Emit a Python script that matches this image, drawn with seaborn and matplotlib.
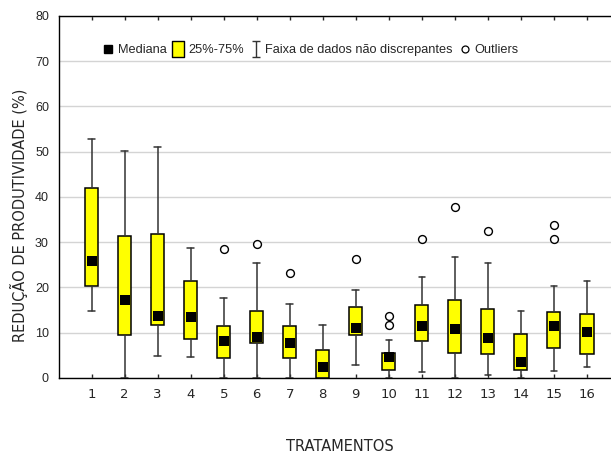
import numpy as np
import pandas as pd
import seaborn as sns
import matplotlib
matplotlib.use("Agg")
import matplotlib.pyplot as plt
from matplotlib.lines import Line2D
from matplotlib.path import Path

# -----------------------------------------
# Data
# -----------------------------------------
tratamentos = list(range(1, 17))
whis_hi = [52.9, 50.1, 51.1, 28.8, 17.6, 25.3, 16.3, 11.6, 19.4, 8.3, 22.4, 26.7, 25.3, 14.7, 20.4, 21.5]
q3 = [42.0, 31.4, 31.8, 21.4, 11.5, 14.7, 11.4, 6.1, 15.6, 5.5, 16.2, 17.2, 15.2, 9.7, 14.5, 14.2]
mediana = [25.9, 17.2, 13.6, 13.5, 8.2, 9.0, 7.8, 2.5, 11.1, 4.7, 11.5, 10.8, 8.9, 3.5, 11.4, 10.1]
q1 = [20.3, 9.5, 11.8, 8.6, 4.3, 7.7, 4.5, 0.0, 9.6, 1.65, 8.2, 5.6, 5.4, 1.8, 6.7, 5.3]
whis_lo = [14.8, 0.0, 4.9, 4.7, 0.0, 0.0, 0.0, 0.0, 2.8, 0.0, 1.3, 0.0, 0.7, 0.0, 1.6, 2.4]
outlier_trat = [5, 6, 7, 9, 10, 10, 11, 12, 13, 15, 15]
outlier_val = [28.4, 29.6, 23.1, 26.3, 13.6, 11.7, 30.6, 37.7, 32.5, 33.7, 30.6]

yticks = [0, 10, 20, 30, 40, 50, 60, 70, 80]

# -----------------------------------------
# Setup
# -----------------------------------------
sns.set_style("white")
plt.rcParams["font.family"] = ["Liberation Sans", "DejaVu Sans"]

fig = plt.figure(figsize=(6.11, 4.57), dpi=100)
ax = fig.add_axes([0.096, 0.173, 0.904, 0.792])

# boxes from precomputed summary stats
stats = []
for i in range(len(tratamentos)):
    stats.append(dict(med=mediana[i], q1=q1[i], q3=q3[i],
                      whislo=whis_lo[i], whishi=whis_hi[i], fliers=[]))

ax.bxp(stats, positions=tratamentos, widths=0.4, showfliers=False,
       patch_artist=True,
       boxprops=dict(facecolor="#ffff00", edgecolor="black", linewidth=1.1),
       whiskerprops=dict(color="#333333", linewidth=1.1),
       capprops=dict(color="#333333", linewidth=1.1),
       capwidths=0.2,
       medianprops=dict(linewidth=0),
       zorder=3)

med_df = pd.DataFrame({"trat": tratamentos, "med": mediana})
sns.scatterplot(data=med_df, x="trat", y="med", marker="s", s=60,
                color="black", edgecolor="black", linewidth=0, ax=ax, zorder=4)

out_df = pd.DataFrame({"trat": outlier_trat, "val": outlier_val})
sns.scatterplot(data=out_df, x="trat", y="val", marker="o", s=32,
                facecolor="white", edgecolor="black", linewidth=1.0, ax=ax, zorder=4)

# -----------------------------------------
# Axes styling
# -----------------------------------------
ax.set_xlim(0, 16.73)
ax.set_ylim(0, 80)
ax.set_xticks(tratamentos)
ax.set_xticklabels([str(t) for t in tratamentos], family="DejaVu Sans", fontsize=9.5)
ax.set_yticks(yticks)
ax.set_yticklabels([str(v) for v in yticks], fontsize=9)
ax.yaxis.grid(True, color="#d4d4d4", linewidth=1.0)
ax.set_axisbelow(True)

ax.tick_params(axis="x", direction="in", length=3, width=1, top=True, bottom=True, pad=7)
ax.tick_params(axis="y", length=0, pad=7)

for side in ["left", "bottom", "top"]:
    ax.spines[side].set_color("black")
    ax.spines[side].set_linewidth(1.0)
ax.spines["right"].set_visible(False)

ax.set_xlabel("TRATAMENTOS", family="DejaVu Sans", fontsize=10.5)
ax.set_ylabel("REDUÇÃO DE PRODUTIVIDADE (%)", family="DejaVu Sans", fontsize=10.5)
ax.xaxis.set_label_coords(0.51, -0.17)
ax.yaxis.set_label_coords(-0.056, 0.45)

# -----------------------------------------
# Legend
# -----------------------------------------
ibeam = Path([(-0.5, 1), (0.5, 1), (0, 1), (0, -1), (-0.5, -1), (0.5, -1)],
             [Path.MOVETO, Path.LINETO, Path.MOVETO, Path.LINETO, Path.MOVETO, Path.LINETO])
tallrect = Path([(-0.38, -0.5), (0.38, -0.5), (0.38, 0.5), (-0.38, 0.5), (-0.38, -0.5)],
                [Path.MOVETO, Path.LINETO, Path.LINETO, Path.LINETO, Path.CLOSEPOLY])

handles = [
    Line2D([], [], linestyle="none", marker="s", markersize=6,
           markerfacecolor="black", markeredgecolor="black"),
    Line2D([], [], linestyle="none", marker=tallrect, markersize=11,
           markerfacecolor="#ffff00", markeredgecolor="black", markeredgewidth=1),
    Line2D([], [], linestyle="none", marker=ibeam, markersize=11,
           markerfacecolor="none", markeredgecolor="#333333", markeredgewidth=1),
    Line2D([], [], linestyle="none", marker="o", markersize=5,
           markerfacecolor="white", markeredgecolor="black", markeredgewidth=0.9),
]
labels = ["Mediana", "25%-75%", "Faixa de dados não discrepantes", "Outliers"]
ax.legend(handles, labels, loc="center left", bbox_to_anchor=(0.08, 0.906),
          ncol=4, frameon=False, fontsize=9.2, handlelength=0.8, handletextpad=0.35,
          columnspacing=0.55, borderpad=0, borderaxespad=0)

plt.savefig("out.png", dpi=100)
plt.close()
